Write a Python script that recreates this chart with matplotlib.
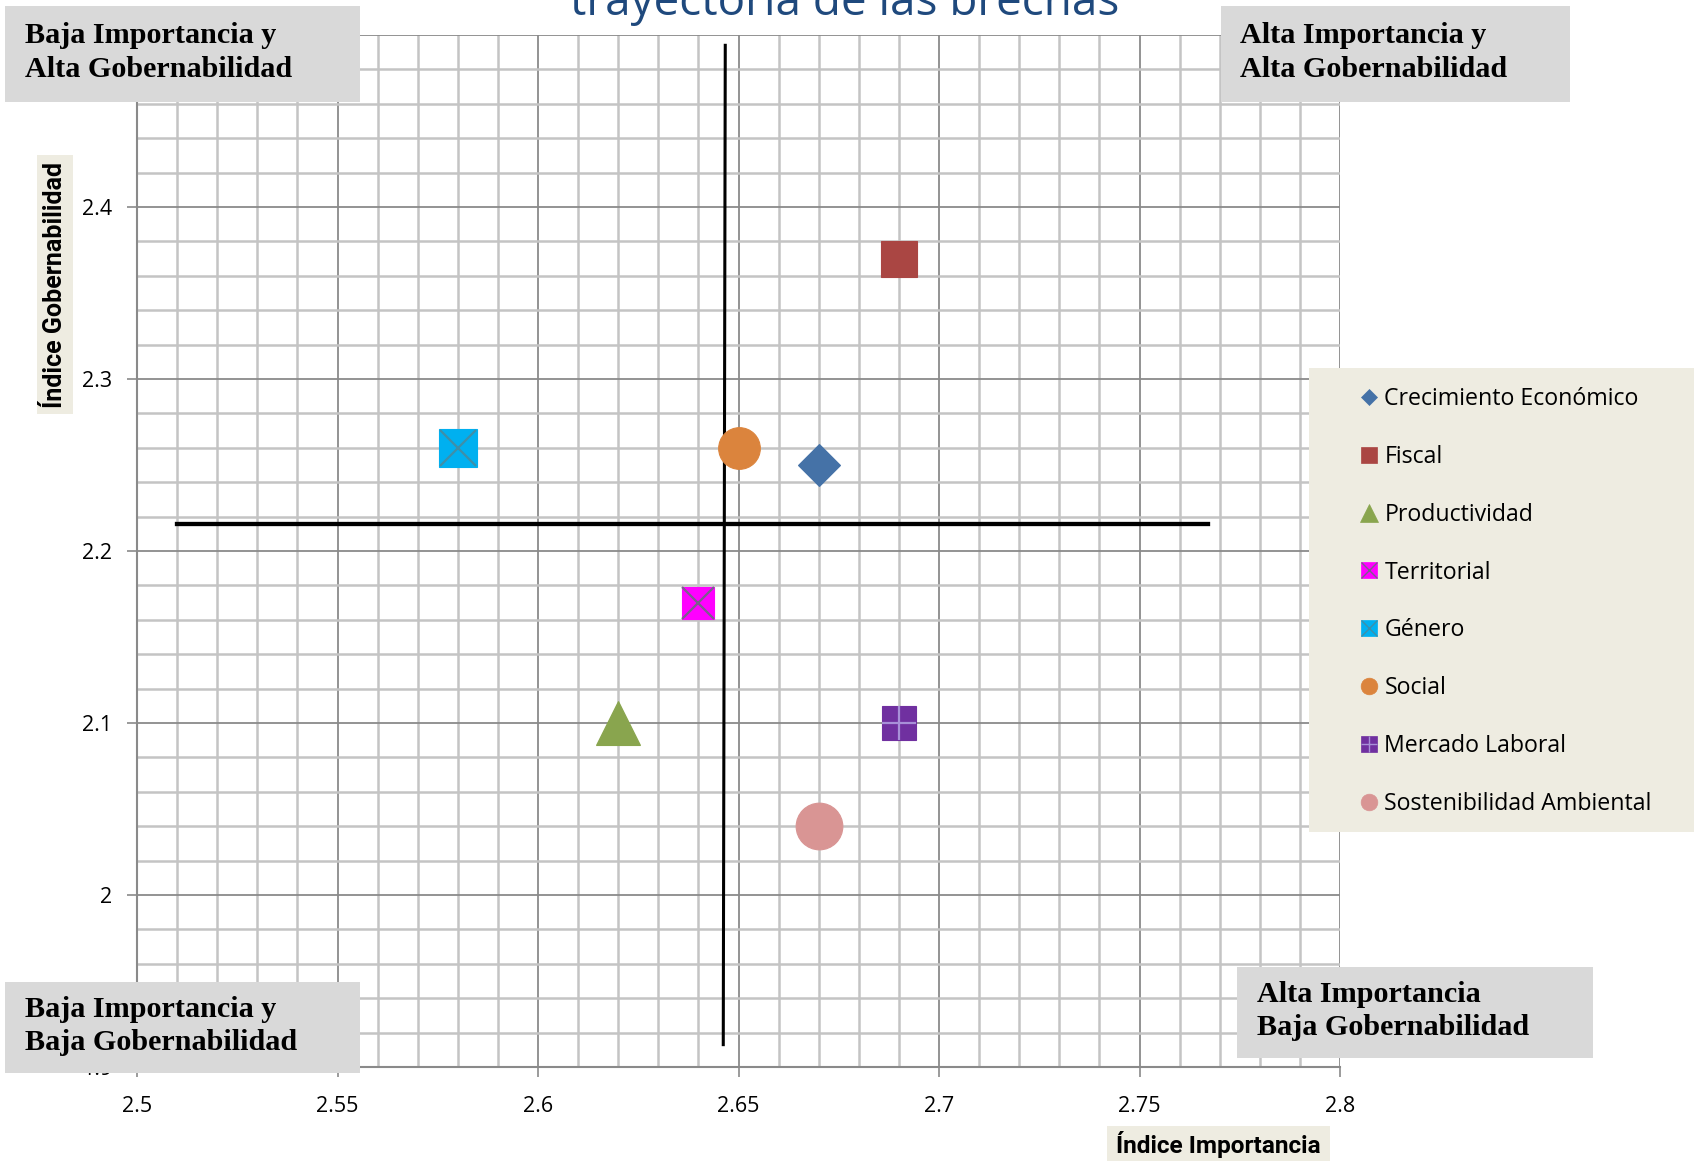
import matplotlib
matplotlib.use('Agg')
import matplotlib.pyplot as plt
from matplotlib.lines import Line2D
from matplotlib.patches import Rectangle
from matplotlib.legend_handler import HandlerTuple
from matplotlib.ticker import MultipleLocator

# data
series = ['Crecimiento Económico', 'Fiscal', 'Productividad', 'Territorial',
          'Género', 'Social', 'Mercado Laboral', 'Sostenibilidad Ambiental']
importancia = [2.67, 2.69, 2.62, 2.64, 2.58, 2.65, 2.69, 2.67]
gobernabilidad = [2.25, 2.37, 2.10, 2.17, 2.26, 2.26, 2.10, 2.04]
colors = ['#4572A7', '#AA4643', '#89A54E', '#FF00FF', '#00B0F0', '#DB843D', '#7030A0', '#D99594']
markers = ['D', 's', '^', 's', 's', 'o', 's', 'o']
overlay = [None, None, None, 'x', 'x', None, '+', None]
overlay_color = [None, None, None, '#7A5F8C', '#3F8FA8', None, '#A890D8', None]

# quadrant lines
h_line_x = [2.51, 2.767]
h_line_y = [2.2157, 2.2157]
v_line_x = [2.6467, 2.6462]
v_line_y = [2.494, 1.913]

x_ticks = [2.5, 2.55, 2.6, 2.65, 2.7, 2.75, 2.8]
x_labels = ['2.5', '2.55', '2.6', '2.65', '2.7', '2.75', '2.8']
y_ticks = [1.9, 2.0, 2.1, 2.2, 2.3, 2.4, 2.5]
y_labels = ['1.9', '2', '2.1', '2.2', '2.3', '2.4', '2.5']

W, H = 1694, 1161
def fx(p):
    return p / W
def fy(p):
    return 1 - p / H

fig = plt.figure(figsize=(W / 100, H / 100), dpi=100)
ax = fig.add_axes([fx(137), fy(1067), fx(1340 - 137), (1067 - 35) / H])

ax.set_xlim(2.5, 2.8)
ax.set_ylim(1.9, 2.5)
ax.xaxis.set_minor_locator(MultipleLocator(0.01))
ax.yaxis.set_minor_locator(MultipleLocator(0.02))
ax.set_xticks(x_ticks)
ax.set_xticklabels(x_labels)
ax.set_yticks(y_ticks)
ax.set_yticklabels(y_labels)
ax.grid(which='minor', color='#C4C4C4', lw=1.8, zorder=0)
ax.grid(which='major', color='#8A8A8A', lw=1.3, zorder=0)
ax.set_axisbelow(True)
for s in ['top', 'right']:
    ax.spines[s].set_visible(False)
for s in ['left', 'bottom']:
    ax.spines[s].set_color('#8A8A8A')
    ax.spines[s].set_linewidth(1.5)
ax.tick_params(which='major', direction='out', length=7, width=1.2, color='#8A8A8A',
               labelsize=15.5, labelcolor='black')
ax.tick_params(axis='x', pad=14)
ax.tick_params(axis='y', pad=11)
ax.tick_params(which='minor', length=0)
for lab in ax.get_xticklabels() + ax.get_yticklabels():
    lab.set_family('Open Sans')

# quadrant lines
ax.plot(h_line_x, h_line_y, color='black', lw=3.1, zorder=3)
ax.plot(v_line_x, v_line_y, color='black', lw=2.2, zorder=3)

sizes = [21.4, 26.4, 31, 23, 27, 30, 25, 33.6]
leg_sizes = [8.6, 12, 12.5, 12, 12, 12, 12, 12]
handles = []
for i in range(len(series)):
    ax.plot(importancia[i], gobernabilidad[i], marker=markers[i], ms=sizes[i], color=colors[i],
            mec=colors[i], mew=0.8, ls='none', zorder=4)
    h = Line2D([], [], marker=markers[i], ms=leg_sizes[i], color=colors[i], mec=colors[i],
               mew=0.5, ls='none')
    if overlay[i]:
        ax.plot(importancia[i], gobernabilidad[i], marker=overlay[i], ms=sizes[i] * 0.98,
                color=overlay_color[i], mew=1.6, ls='none', zorder=5)
        h2 = Line2D([], [], marker=overlay[i], ms=leg_sizes[i], color=overlay_color[i],
                    mew=1.0, ls='none')
        h = (h, h2)
    handles.append(h)

# legend
fig.add_artist(Rectangle((fx(1309), fy(832)), fx(1694 - 1309), (832 - 368) / H,
                         transform=fig.transFigure, facecolor='#EEECE1', edgecolor='none', zorder=4))
leg = fig.legend(handles, series, loc='upper left', bbox_to_anchor=(fx(1360), fy(387)),
                 frameon=False, borderpad=0, borderaxespad=0, handlelength=0.8,
                 handletextpad=0.25, labelspacing=1.46,
                 handler_map={tuple: HandlerTuple(ndivide=1, pad=0)},
                 prop={'family': 'Open Sans', 'size': 16.7})
leg.set_zorder(6)

# title
fig.text(fx(845), fy(15), 'trayectoria de las brechas', ha='center', va='baseline',
         fontsize=33, color='#1F497D', family='Open Sans')

# quadrant labels
boxes = [
    ((5, 6, 360, 102), 25, 'Baja Importancia y\nAlta Gobernabilidad'),
    ((1221, 6, 1570, 102), 1240, 'Alta Importancia y\nAlta Gobernabilidad'),
    ((5, 982, 360, 1073), 25, 'Baja Importancia y\nBaja Gobernabilidad'),
    ((1237, 967, 1593, 1058), 1257, 'Alta Importancia\nBaja Gobernabilidad'),
]
for (x0, y0, x1, y1), tx, txt in boxes:
    fig.add_artist(Rectangle((fx(x0), fy(y1)), fx(x1 - x0), (y1 - y0) / H,
                             transform=fig.transFigure, facecolor='#D9D9D9',
                             edgecolor='none', zorder=7))
    fig.text(fx(tx), fy((y0 + y1) / 2 - 1.5), txt, ha='left', va='center', fontsize=21.7,
             fontweight='bold', family='Liberation Serif', linespacing=1.33, zorder=8)

# axis titles
fig.add_artist(Rectangle((fx(37), fy(414)), fx(73 - 37), (414 - 155) / H,
                         transform=fig.transFigure, facecolor='#EEECE1', edgecolor='none', zorder=7))
fig.text(fx(55), fy(285), 'Índice Gobernabilidad', rotation=90, ha='center', va='center',
         fontsize=18, fontweight='bold', family='Roboto', zorder=8)
fig.add_artist(Rectangle((fx(1107), fy(1162)), fx(1330 - 1107), (1162 - 1126) / H,
                         transform=fig.transFigure, facecolor='#EEECE1', edgecolor='none', zorder=7))
fig.text(fx(1218), fy(1145), 'Índice Importancia', ha='center', va='center',
         fontsize=17.6, fontweight='bold', family='Roboto', zorder=8)

fig.savefig('out.png', dpi=100)
